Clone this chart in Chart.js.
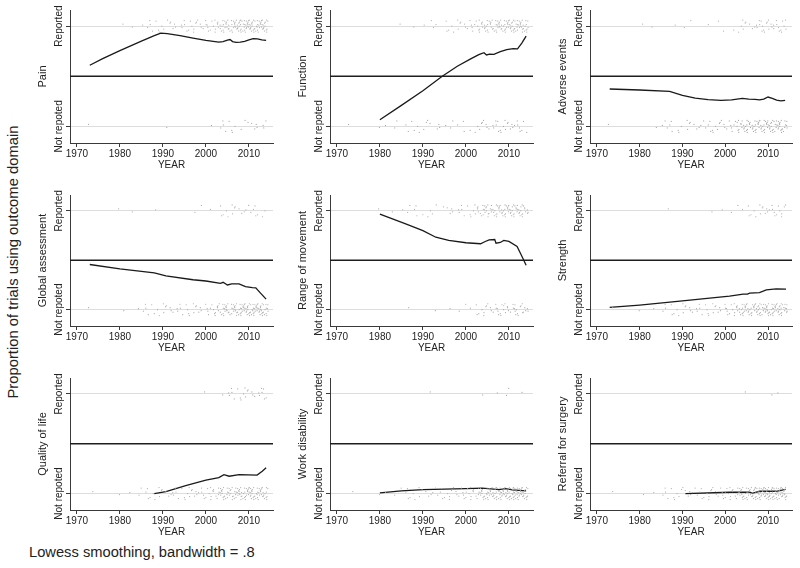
<!DOCTYPE html>
<html>
<head>
<meta charset="utf-8">
<script src="https://cdn.jsdelivr.net/npm/chart.js@4.4.1/dist/chart.umd.min.js"></script>
<style>
  html, body { margin: 0; padding: 0; background: #fff; }
  #wrap { position: relative; width: 800px; height: 568px; overflow: hidden; background: #fff; font-family: 'Liberation Sans', Arial, Helvetica, sans-serif; color: #222; }
  canvas { position: absolute; }
  #ytitle { position: absolute; width: 320px; height: 18px; line-height: 18px; font-size: 14.8px; text-align: center; white-space: nowrap; transform: rotate(-90deg); }
  #foot { position: absolute; font-size: 14.7px; line-height: 14.7px; white-space: nowrap; }
</style>
</head>
<body>
<div id="wrap">
  <div id="ytitle">Proportion of trials using outcome domain</div>
  <div id="foot">Lowess smoothing, bandwidth = .8</div>
</div>
<script>
// ---------------- data ----------------
const domains = ['Pain', 'Function', 'Adverse events', 'Global assessment', 'Range of movement', 'Strength', 'Quality of life', 'Work disability', 'Referral for surgery'];
const xTickVals = [1970, 1980, 1990, 2000, 2010];
const yTickVals = [0, 1];
const yTickLabels = ['Not repoted', 'Reported'];
const refLevel = 0.5;

// lowess curves [year, proportion]
const painLowess = [[1973,0.61],[1976,0.675],[1980,0.755],[1985,0.85],[1988,0.905],[1989.5,0.93],[1991,0.925],[1994,0.905],[1997,0.88],[2000,0.857],[2003,0.84],[2004,0.845],[2005,0.86],[2005.6,0.866],[2006.2,0.845],[2007,0.838],[2008,0.84],[2009,0.847],[2010,0.862],[2011,0.874],[2012,0.873],[2013,0.862],[2014,0.857]];
const functionLowess = [[1980,0.067],[1985,0.21],[1990,0.355],[1994.5,0.5],[1998,0.6],[2001,0.67],[2003,0.715],[2004.2,0.735],[2004.8,0.712],[2005.5,0.72],[2006.5,0.718],[2008,0.745],[2009.5,0.765],[2011,0.775],[2012,0.772],[2013,0.83],[2014,0.9]];
const adverseLowess = [[1973,0.373],[1980,0.363],[1987,0.35],[1990,0.31],[1993,0.283],[1996,0.267],[1999,0.26],[2001.5,0.265],[2004,0.28],[2005.5,0.273],[2007,0.27],[2008,0.265],[2009,0.272],[2010,0.293],[2011,0.28],[2012,0.262],[2013,0.255],[2014,0.26]];
const globalLowess = [[1973,0.457],[1980,0.413],[1988,0.373],[1990.7,0.343],[1997,0.303],[2000,0.29],[2003.4,0.267],[2004,0.277],[2005,0.25],[2006,0.262],[2007.7,0.262],[2009.2,0.233],[2010.8,0.223],[2011.6,0.22],[2012.7,0.167],[2014,0.107]];
const romLowess = [[1980,0.967],[1986,0.867],[1990,0.8],[1993,0.733],[1996,0.7],[2000,0.677],[2003.4,0.667],[2004.5,0.69],[2005.4,0.707],[2006.7,0.71],[2007,0.673],[2008,0.68],[2008.8,0.7],[2010,0.69],[2011.9,0.64],[2013.1,0.533],[2014,0.45]];
const strengthLowess = [[1973,0.023],[1980,0.047],[1990,0.09],[2001,0.137],[2004.2,0.157],[2005.2,0.157],[2005.7,0.167],[2008,0.173],[2009.6,0.2],[2011.9,0.21],[2014.2,0.208]];
const qolLowess = [[1988,0.0],[1990.7,0.02],[1995.3,0.08],[2000,0.134],[2003,0.16],[2004.2,0.19],[2005.4,0.174],[2007.7,0.19],[2011.9,0.185],[2013.1,0.225],[2014,0.26]];
const workLowess = [[1980,0.007],[1985,0.027],[1990,0.04],[2000,0.05],[2003.8,0.054],[2007.7,0.04],[2009.2,0.05],[2010.8,0.037],[2014,0.027]];
const referralLowess = [[1990.7,0.0],[2001,0.013],[2005.7,0.013],[2006.5,0.004],[2008,0.023],[2011.9,0.023],[2014.1,0.043]];

// trial counts per year [year, count] : reported / not reported
const painRep = [[1981,1],[1983,1],[1985,1],[1986,1],[1987,2],[1988,2],[1989,2],[1990,2],[1991,1],[1992,3],[1993,2],[1994,2],[1995,2],[1996,3],[1997,3],[1998,3],[1999,3],[2000,4],[2001,3],[2002,4],[2003,6],[2004,8],[2005,8],[2006,7],[2007,10],[2008,11],[2009,11],[2010,12],[2011,11],[2012,10],[2013,11],[2014,9]];
const painNot = [[1973,1],[1991,1],[2001,1],[2003,1],[2004,2],[2005,2],[2006,2],[2007,1],[2008,1],[2009,1],[2010,1],[2011,2],[2012,2],[2013,2],[2014,1]];
const functionRep = [[1985,1],[1988,1],[1990,1],[1992,2],[1993,1],[1995,1],[1996,2],[1997,2],[1998,2],[1999,2],[2000,3],[2001,3],[2002,3],[2003,5],[2004,7],[2005,7],[2006,7],[2007,8],[2008,9],[2009,9],[2010,10],[2011,10],[2012,9],[2013,10],[2014,9]];
const functionNot = [[1973,1],[1980,1],[1981,1],[1983,1],[1984,1],[1986,1],[1987,2],[1988,1],[1989,2],[1990,1],[1991,2],[1992,1],[1993,1],[1994,2],[1995,1],[1996,1],[1997,1],[1998,1],[1999,1],[2000,1],[2001,1],[2002,1],[2003,2],[2004,3],[2005,3],[2006,2],[2007,3],[2008,3],[2009,3],[2010,3],[2011,3],[2012,3],[2013,3],[2014,1]];
const adverseRep = [[1981,1],[1983,1],[1988,1],[1990,1],[1992,1],[1996,1],[1998,1],[2000,1],[2002,1],[2003,1],[2004,3],[2005,2],[2006,2],[2007,3],[2008,3],[2009,4],[2010,4],[2011,4],[2012,3],[2013,4],[2014,3]];
const adverseNot = [[1973,1],[1984,1],[1985,1],[1986,2],[1987,2],[1988,1],[1989,2],[1990,1],[1991,2],[1992,2],[1993,2],[1994,2],[1995,2],[1996,2],[1997,3],[1998,2],[1999,3],[2000,3],[2001,3],[2002,3],[2003,6],[2004,7],[2005,8],[2006,7],[2007,8],[2008,9],[2009,8],[2010,9],[2011,9],[2012,9],[2013,9],[2014,7]];
const globalRep = [[1980,1],[1983,1],[1988,1],[1997,1],[1999,1],[2001,1],[2003,1],[2004,2],[2005,2],[2006,2],[2007,2],[2008,2],[2009,2],[2010,2],[2011,2],[2012,2],[2013,1],[2014,1]];
const globalNot = [[1973,1],[1981,1],[1984,1],[1985,1],[1986,2],[1987,2],[1988,1],[1989,2],[1990,2],[1991,2],[1992,3],[1993,2],[1994,2],[1995,2],[1996,3],[1997,2],[1998,3],[1999,2],[2000,3],[2001,3],[2002,4],[2003,6],[2004,8],[2005,8],[2006,7],[2007,9],[2008,10],[2009,10],[2010,11],[2011,11],[2012,10],[2013,12],[2014,9]];
const romRep = [[1980,1],[1983,1],[1985,1],[1986,1],[1987,1],[1988,2],[1989,1],[1990,1],[1991,1],[1992,2],[1993,1],[1995,1],[1996,2],[1997,2],[1998,2],[1999,2],[2000,2],[2001,2],[2002,3],[2003,5],[2004,7],[2005,7],[2006,6],[2007,7],[2008,8],[2009,8],[2010,9],[2011,8],[2012,8],[2013,8],[2014,6]];
const romNot = [[1987,1],[1993,1],[1996,1],[1998,1],[2000,1],[2001,1],[2002,1],[2003,2],[2004,3],[2005,3],[2006,3],[2007,4],[2008,4],[2009,4],[2010,4],[2011,5],[2012,4],[2013,5],[2014,4]];
const strengthRep = [[1987,1],[1997,1],[1999,1],[2001,1],[2003,1],[2004,1],[2005,1],[2006,2],[2007,2],[2008,2],[2009,3],[2010,3],[2011,3],[2012,3],[2013,3],[2014,2]];
const strengthNot = [[1974,1],[1980,1],[1983,1],[1985,1],[1986,2],[1987,1],[1988,2],[1989,2],[1990,2],[1991,2],[1992,3],[1993,2],[1994,2],[1995,2],[1996,3],[1997,2],[1998,3],[1999,2],[2000,4],[2001,3],[2002,4],[2003,6],[2004,9],[2005,9],[2006,7],[2007,9],[2008,10],[2009,9],[2010,10],[2011,10],[2012,9],[2013,10],[2014,8]];
const qolRep = [[2000,1],[2004,1],[2005,2],[2006,2],[2007,2],[2008,2],[2009,3],[2010,2],[2011,3],[2012,2],[2013,3],[2014,2]];
const qolNot = [[1974,1],[1980,1],[1982,1],[1984,1],[1985,1],[1986,2],[1987,2],[1988,2],[1989,2],[1990,2],[1991,2],[1992,3],[1993,2],[1994,2],[1995,2],[1996,3],[1997,3],[1998,3],[1999,3],[2000,3],[2001,4],[2002,4],[2003,7],[2004,9],[2005,8],[2006,7],[2007,9],[2008,10],[2009,9],[2010,11],[2011,10],[2012,10],[2013,10],[2014,8]];
const workRep = [[1992,1],[2004,1],[2007,1],[2009,1],[2010,1],[2013,1]];
const workNot = [[1974,1],[1980,1],[1981,1],[1983,1],[1985,1],[1986,2],[1987,2],[1988,2],[1989,2],[1990,2],[1991,2],[1992,2],[1993,2],[1994,2],[1995,2],[1996,3],[1997,3],[1998,3],[1999,3],[2000,4],[2001,4],[2002,4],[2003,7],[2004,9],[2005,10],[2006,9],[2007,10],[2008,12],[2009,11],[2010,12],[2011,13],[2012,12],[2013,12],[2014,10]];
const referralRep = [[2005,1],[2011,1],[2012,1]];
const referralNot = [[1974,1],[1981,1],[1983,1],[1985,1],[1986,2],[1987,2],[1988,2],[1989,2],[1990,2],[1991,2],[1992,3],[1993,2],[1994,2],[1995,2],[1996,3],[1997,3],[1998,3],[1999,3],[2000,4],[2001,4],[2002,4],[2003,7],[2004,10],[2005,9],[2006,9],[2007,11],[2008,12],[2009,12],[2010,13],[2011,12],[2012,11],[2013,13],[2014,10]];

// fixed jitter table [dYear, dProportion]
const jitter = [[-0.3,0.02],[0.2,-0.03],[0.4,0.05],[-0.1,-0.01],[0.1,0.06],[-0.4,-0.05],[0.3,0.01],[-0.2,0.04],[0.0,-0.04],[0.45,-0.015],[-0.35,0.03],[0.15,-0.06],[-0.05,0.055],[0.35,-0.025],[-0.25,0.0],[0.05,0.015]];

const lowessList = [painLowess, functionLowess, adverseLowess, globalLowess, romLowess, strengthLowess, qolLowess, workLowess, referralLowess];
const repList = [painRep, functionRep, adverseRep, globalRep, romRep, strengthRep, qolRep, workRep, referralRep];
const notList = [painNot, functionNot, adverseNot, globalNot, romNot, strengthNot, qolNot, workNot, referralNot];

// ---------------- layout ----------------
const FONT = "'Liberation Sans', Arial, Helvetica, sans-serif";
Chart.defaults.font.family = FONT;
Chart.defaults.color = '#222';
const X_MIN = 1968.4, X_MAX = 2015.6, Y_MIN = -0.165, Y_MAX = 1.16;
const PLOT_L = [70, 330, 590], PLOT_R = [274, 534, 793];
const PLOT_T = [10, 195, 378], PLOT_B = [143, 326, 510];
const Y_AXIS_W = 70, X_AXIS_H = 28, PAD_T = 8, PAD_R = 3, PAD_B = 2;
const AXIS_COLOR = '#3a3a3a';

document.getElementById('ytitle').style.left = (13.4 - 160) + 'px';
document.getElementById('ytitle').style.top = (261.5 - 9) + 'px';
document.getElementById('foot').style.left = '29px';
document.getElementById('foot').style.top = '545.4px';

function toDots(pairs, base) {
  const pts = [];
  let k = 0;
  pairs.forEach(([yr, n]) => {
    for (let i = 0; i < n; i++) {
      const j = jitter[k % jitter.length];
      pts.push({ x: yr + j[0], y: base + j[1] });
      k += 3;
    }
  });
  return pts;
}

const refLine = {
  id: 'refLine',
  beforeDatasetsDraw(chart) {
    const { ctx, chartArea, scales } = chart;
    const y = scales.y.getPixelForValue(refLevel);
    ctx.save();
    ctx.strokeStyle = '#1e1e1e';
    ctx.lineWidth = 1.5;
    ctx.beginPath();
    ctx.moveTo(chartArea.left, y);
    ctx.lineTo(chartArea.right, y);
    ctx.stroke();
    ctx.restore();
  }
};

const wrap = document.getElementById('wrap');
domains.forEach((name, idx) => {
  const r = Math.floor(idx / 3), c = idx % 3;
  const cv = document.createElement('canvas');
  const w = Y_AXIS_W + (PLOT_R[c] - PLOT_L[c]) + PAD_R;
  const h = PAD_T + (PLOT_B[r] - PLOT_T[r]) + X_AXIS_H + PAD_B;
  cv.width = w; cv.height = h;
  cv.style.width = w + 'px'; cv.style.height = h + 'px';
  cv.style.left = (PLOT_L[c] - Y_AXIS_W) + 'px';
  cv.style.top = (PLOT_T[r] - PAD_T) + 'px';
  wrap.appendChild(cv);

  new Chart(cv, {
    type: 'scatter',
    data: {
      datasets: [
        { data: toDots(repList[idx], 1), pointRadius: 0.6, pointBorderWidth: 0, pointBackgroundColor: '#ababab', showLine: false },
        { data: toDots(notList[idx], 0), pointRadius: 0.6, pointBorderWidth: 0, pointBackgroundColor: '#ababab', showLine: false },
        { data: lowessList[idx].map(([x, y]) => ({ x, y })), showLine: true, borderColor: '#1a1a1a', borderWidth: 1.3, pointRadius: 0, tension: 0, fill: false }
      ]
    },
    options: {
      responsive: false,
      animation: false,
      devicePixelRatio: 1,
      layout: { padding: { left: 0, top: PAD_T, right: PAD_R, bottom: PAD_B } },
      plugins: { legend: { display: false }, tooltip: { enabled: false } },
      scales: {
        x: {
          type: 'linear', min: X_MIN, max: X_MAX,
          afterBuildTicks: s => { s.ticks = xTickVals.map(v => ({ value: v })); },
          afterFit: s => { s.height = X_AXIS_H; },
          ticks: { font: { size: 10 }, color: '#222', padding: 1, maxRotation: 0, autoSkip: false, callback: v => String(v) },
          grid: { drawOnChartArea: false, drawTicks: true, tickLength: 4, tickColor: AXIS_COLOR },
          border: { color: AXIS_COLOR, width: 1 },
          title: { display: true, text: 'YEAR', font: { size: 10 }, color: '#222', padding: { top: 0, bottom: 0 } }
        },
        y: {
          type: 'linear', min: Y_MIN, max: Y_MAX,
          afterBuildTicks: s => { s.ticks = yTickVals.map(v => ({ value: v })); },
          afterFit: s => { s.width = Y_AXIS_W; },
          ticks: { font: { size: 10 }, color: '#222', minRotation: 90, maxRotation: 90, crossAlign: 'center', padding: -19.1, autoSkip: false,
                   callback: v => yTickLabels[yTickVals.indexOf(v)] },
          grid: { color: '#dddddd', lineWidth: 1, drawTicks: true, tickLength: 4, tickColor: AXIS_COLOR },
          border: { color: AXIS_COLOR, width: 1 },
          title: { display: true, text: name, font: { size: 11 }, color: '#222', padding: { top: 35.9, bottom: 0 } }
        }
      }
    },
    plugins: [refLine]
  });
});
</script>
</body>
</html>
